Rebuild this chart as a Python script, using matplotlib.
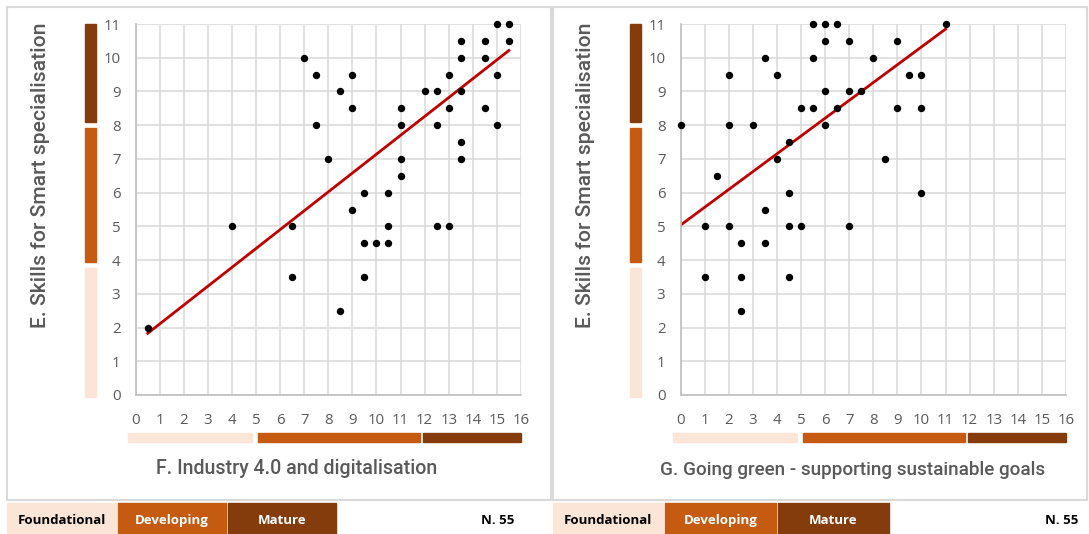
import matplotlib
matplotlib.use('Agg')
import matplotlib.pyplot as plt
from matplotlib.patches import Rectangle

plt.rcParams['font.family'] = ['Open Sans', 'DejaVu Sans']

# F. Industry 4.0 vs E. Skills
f_industry = [7, 7.5, 8.5, 9, 9, 7.5, 8, 9, 9.5, 10.5, 11, 11, 11, 11, 12, 12.5, 12.5,
              13, 13, 13.5, 13.5, 13.5, 13.5, 13.5, 14.5, 14.5, 14.5, 15, 15.5, 15.5,
              15, 15, 0.5, 4, 6.5, 6.5, 8.5, 9.5, 10, 10.5, 10.5, 9.5, 12.5, 13]
e_skills_f = [10, 9.5, 9, 9.5, 8.5, 8, 7, 5.5, 6, 6, 8.5, 8, 7, 6.5, 9, 9, 8,
              9.5, 8.5, 10.5, 10, 9, 7.5, 7, 10.5, 10, 8.5, 11, 11, 10.5,
              9.5, 8, 2, 5, 5, 3.5, 2.5, 4.5, 4.5, 4.5, 5, 3.5, 5, 5]

# G. Going green vs E. Skills
g_green = [0, 1.5, 2, 2, 3, 3.5, 3.5, 4, 4, 4.5, 4.5, 5, 5.5, 5.5, 5.5, 6, 6, 6, 6,
           6.5, 6.5, 7, 7, 7.5, 8, 8.5, 9, 9, 9.5, 10, 10, 10, 11,
           1, 2, 2.5, 3.5, 4.5, 5, 7, 1, 2.5, 4.5, 2.5]
e_skills_g = [8, 6.5, 9.5, 8, 8, 10, 5.5, 9.5, 7, 7.5, 6, 8.5, 11, 10, 8.5, 11, 10.5, 9, 8,
              11, 8.5, 10.5, 9, 9, 10, 7, 10.5, 8.5, 9.5, 9.5, 8.5, 6, 11,
              5, 5, 4.5, 4.5, 5, 5, 5, 3.5, 3.5, 3.5, 2.5]

# linear trend (slope, intercept)
trend_f = (0.559, 1.55)
trend_g = (0.528, 5.04)

levels = ['Foundational', 'Developing', 'Mature']
level_colors = ['#FBE5D6', '#C55A11', '#843C0C']
level_text = ['#000000', '#ffffff', '#ffffff']
x_bands = [(-0.3, 4.85), (5.1, 11.82), (11.95, 16.0)]
y_bands = [(-0.05, 3.78), (3.93, 7.92), (8.1, 11.0)]
n_resp = 55

W, H = 1089, 534
fig = plt.figure(figsize=(W / 100, H / 100), dpi=100)
grey = '#595959'
title_font = dict(family=['Roboto', 'DejaVu Sans'], fontweight='medium', color=grey)


def px(x0, y0, x1, y1):
    # pixel box (top-left origin) -> figure fraction [l, b, w, h]
    return [x0 / W, 1 - y1 / H, (x1 - x0) / W, (y1 - y0) / H]


def panel(left, x, y, trend, xlabel, xlab_pos, xlab_size):
    ax = fig.add_axes(px(left, 24, left + 385.2, 395))
    ax.plot(x, y, 'o', color='black', ms=4.3, zorder=3, clip_on=False)
    x0, x1 = min(x), max(x)
    ax.plot([x0, x1], [trend[1] + trend[0] * x0, trend[1] + trend[0] * x1],
            color='#C00000', lw=2, zorder=2)
    ax.set_xlim(0, 16)
    ax.set_ylim(0, 11)
    ax.set_xticks(range(0, 17))
    ax.set_yticks(range(0, 12))
    ax.grid(True, color='#d9d9d9', lw=1.1)
    ax.set_axisbelow(True)
    for s in ['top', 'right']:
        ax.spines[s].set_visible(False)
    for s in ['left', 'bottom']:
        ax.spines[s].set_color('#bfbfbf')
        ax.spines[s].set_linewidth(1.2)
    ax.tick_params(length=0, labelsize=10.8, labelcolor=grey)
    ax.tick_params(axis='y', pad=11)
    ax.tick_params(axis='x', pad=13)

    # maturity bands along both axes
    for (a, b), c in zip(x_bands, level_colors):
        ax.add_patch(Rectangle((a, -0.127), b - a, 0.025, color=c,
                               transform=ax.get_xaxis_transform(), clip_on=False))
    for (a, b), c in zip(y_bands, level_colors):
        ax.add_patch(Rectangle((-0.132, a), 0.029, b - a, color=c,
                               transform=ax.get_yaxis_transform(), clip_on=False))

    fig.text(xlab_pos[0] / W, 1 - xlab_pos[1] / H, xlabel, ha='center', va='center',
             fontsize=xlab_size, **title_font)
    fig.text((left - 95) / W, 1 - 175 / H, 'E. Skills for Smart specialisation',
             rotation=90, ha='center', va='center', fontsize=15.2, **title_font)
    return ax


panel(135.7, f_industry, e_skills_f, trend_f, 'F. Industry 4.0 and digitalisation', (297, 469), 14.1)
panel(680.7, g_green, e_skills_g, trend_g, 'G. Going green - supporting sustainable goals', (853, 470), 13.6)

# panel frames
for x0, x1 in [(7, 551), (553, 1087)]:
    fig.add_artist(Rectangle(px(x0, 7, x1, 500)[:2], (x1 - x0) / W, 493 / H, fill=False,
                             edgecolor='#d9d9d9', lw=1.5, transform=fig.transFigure))

# legend strip under each panel
for boxes, n_x in [([(7, 116), (118, 226), (228, 336)], 514),
                   ([(553, 663), (665, 776), (778, 889)], 1078)]:
    for (x0, x1), name, c, tc in zip(boxes, levels, level_colors, level_text):
        b = px(x0, 503, x1, 534)
        fig.add_artist(Rectangle(b[:2], b[2], b[3], color=c, transform=fig.transFigure))
        fig.text((x0 + x1) / 2 / W, 1 - 519 / H, name, ha='center', va='center_baseline',
                 fontsize=9.5, fontweight='bold', color=tc)
    fig.text(n_x / W, 1 - 519 / H, 'N. ' + str(n_resp), ha='right', va='center_baseline',
             fontsize=9.5, fontweight='bold', color='black')

plt.savefig('out.png', dpi=100)
